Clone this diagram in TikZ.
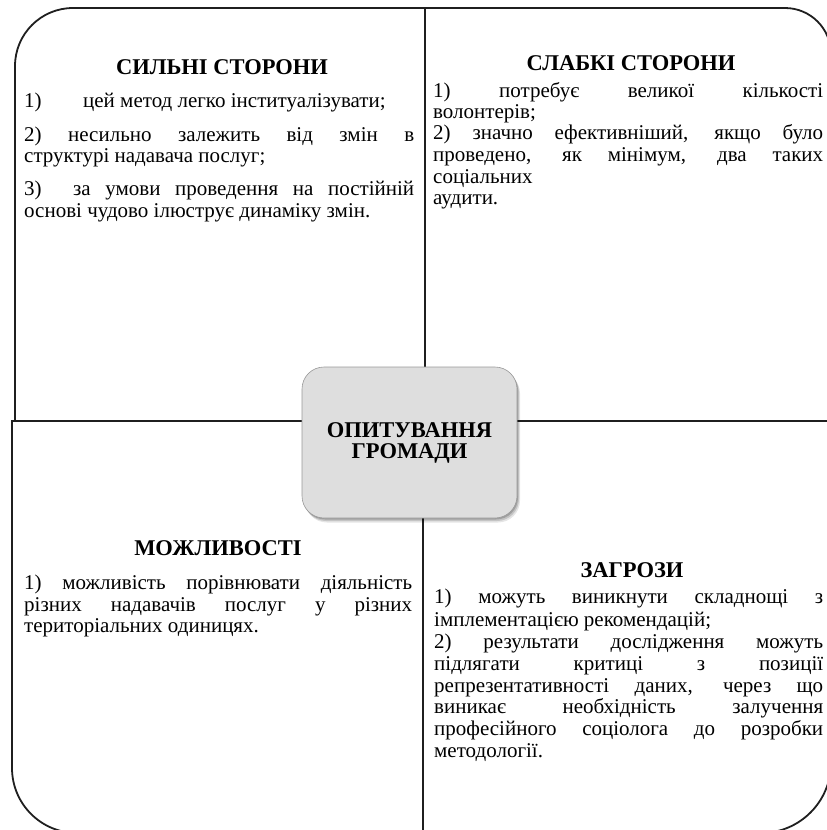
\documentclass[tikz,border=0pt]{standalone}
\usepackage{fontspec}
\setmainfont{Liberation Serif}
\usetikzlibrary{shadows}
\begin{document}
\begin{tikzpicture}[x=1pt,y=-1pt,
  frame/.style={draw=black!88, line width=1.8pt, fill=white},
  head/.style={font=\fontsize{22.5}{26}\selectfont\bfseries, inner sep=0pt, anchor=base},
  body/.style={font=\fontsize{21}{22}\selectfont, inner sep=0pt, anchor=base west},
  hub/.style={draw=black!40, line width=0.6pt, fill=black!13, rounded corners=22pt,
    align=center, font=\fontsize{22.5}{21}\selectfont\bfseries,
    drop shadow={shadow xshift=1pt, shadow yshift=-1.5pt, opacity=0.18, fill=black},
    drop shadow={shadow xshift=2pt, shadow yshift=-3pt, opacity=0.14, fill=black},
    drop shadow={shadow xshift=3pt, shadow yshift=-4.5pt, opacity=0.10, fill=black}}
]
\useasboundingbox (0,0) rectangle (827,830);
\clip (0,0) rectangle (827,830);
% quadrants
\draw[frame] (15,421) [rounded corners=58pt] -- (15,8) [sharp corners] -- (425,8) -- (425,421) -- cycle;
\draw[frame] (425,421) -- (425,8) [rounded corners=46pt] -- (831,8) [sharp corners] -- (831,421) -- cycle;
\draw[frame] (423,421) -- (12,421) [rounded corners=65pt] -- (12,833) [sharp corners] -- (423,833) -- cycle;
\draw[frame] (423,421) -- (831,421) [rounded corners=70pt] -- (831,833) [sharp corners] -- (423,833) -- cycle;
% centre
\node[hub, minimum width=215pt, minimum height=151pt] (hub) at (409.5,442.5) {ОПИТУВАННЯ\\ГРОМАДИ};
% top-left
\node[head] (h1) at (222,74) {СИЛЬНІ СТОРОНИ};
\node[body] (a1) at (24,107) {\makebox[59pt][l]{1)}цей метод легко інституалізувати;};
\node[body] (a2) at (24,141) {\makebox[390pt][s]{2) несильно залежить від змін в}};
\node[body] (a3) at (24,162) {структурі надавача послуг;};
\node[body] (a4) at (24,195) {\makebox[390pt][s]{\makebox[49pt][l]{3)}за умови проведення на постійній}};
\node[body] (a5) at (24,217) {основі чудово ілюструє динаміку змін.};
% top-right
\node[head] (h2) at (631,70) {СЛАБКІ СТОРОНИ};
\node[body] (b1) at (433,97) {\makebox[390pt][s]{1) потребує великої кількості}};
\node[body] (b2) at (433,118) {волонтерів;};
\node[body] (b3) at (433,139) {\makebox[390pt][s]{2) значно ефективніший, якщо було}};
\node[body] (b4) at (433,161) {\makebox[390pt][s]{проведено, як мінімум, два таких}};
\node[body] (b5) at (433,183) {соціальних};
\node[body] (b6) at (433,204) {аудити.};
% bottom-left
\node[head] (h3) at (218,555) {МОЖЛИВОСТІ};
\node[body] (c1) at (24,589) {\makebox[388pt][s]{1) можливість порівнювати діяльність}};
\node[body] (c2) at (24,611) {\makebox[388pt][s]{різних надавачів послуг у різних}};
\node[body] (c3) at (24,632) {територіальних одиницях.};
% bottom-right
\node[head] (h4) at (632,577) {ЗАГРОЗИ};
\node[body] (d1) at (434,603) {\makebox[389pt][s]{1) можуть виникнути складнощі з}};
\node[body] (d2) at (434,626) {імплементацією рекомендацій;};
\node[body] (d3) at (434,648) {\makebox[389pt][s]{2) результати дослідження можуть}};
\node[body] (d4) at (434,670) {\makebox[389pt][s]{підлягати критиці з позиції}};
\node[body] (d5) at (434,692) {\makebox[389pt][s]{репрезентативності даних, через що}};
\node[body] (d6) at (434,713) {\makebox[389pt][s]{виникає необхідність залучення}};
\node[body] (d7) at (434,735) {\makebox[389pt][s]{професійного соціолога до розробки}};
\node[body] (d8) at (434,757) {методології.};
\end{tikzpicture}
\end{document}
